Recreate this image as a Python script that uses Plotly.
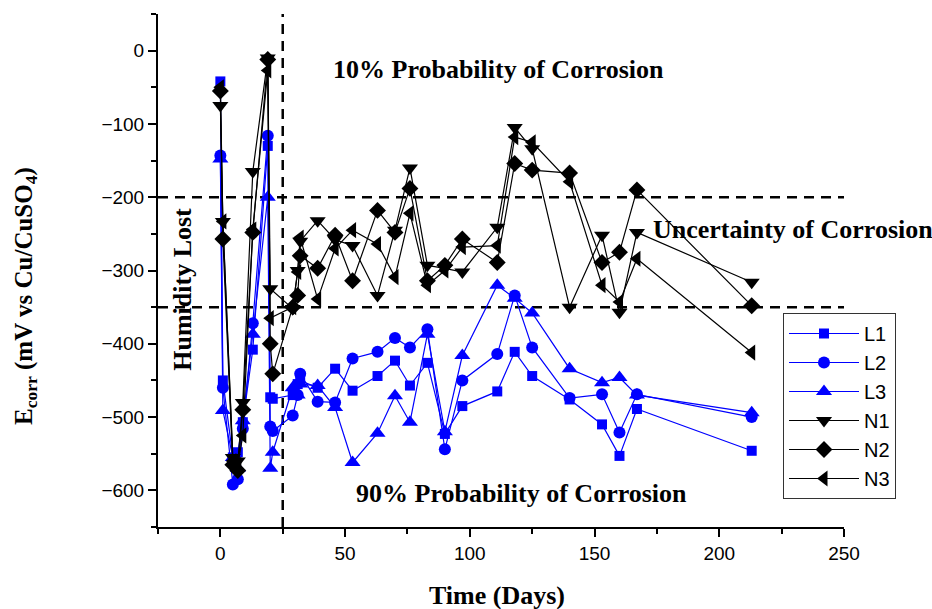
import plotly.graph_objects as go

days = [0, 1, 5, 7, 9, 13, 19, 20, 21, 29, 31, 32, 39, 46, 53, 63, 70, 76, 83, 90, 97,
        111, 118, 125, 140, 153, 160, 167, 213]

L1 = [-42, -450, -555, -548, -507, -408, -130, -473, -475, -470, -455, -450, -460, -434, -464, -444,
      -423, -457, -426, -523, -485, -465, -411, -444, -476, -510, -553, -489, -546]
L2 = [-143, -460, -592, -585, -516, -372, -116, -513, -519, -498, -470, -441, -479, -480, -420, -411,
      -392, -405, -380, -544, -450, -414, -334, -405, -474, -469, -521, -469, -500]
L3 = [-148, -491, -555, -570, -505, -387, -200, -570, -548, -460, -470, -455, -457, -487, -562, -522,
      -471, -507, -387, -520, -416, -320, -338, -358, -434, -453, -446, -470, -494]
N1 = [-75, -233, -555, -560, -480, -165, -10, -325, None, -352, -300, -260, -232, -258, -266, -334,
      -245, -160, -293, -297, -302, -241, -105, -134, -350, -252, -357, -248, -316]
N2 = [-55, -257, -565, -573, -490, -248, -12, -400, -441, -350, -334, -280, -297, -252, -314, -218,
      -248, -188, -314, -293, -257, -289, -154, -163, -167, -289, -275, -190, -348]
N3 = [-50, -233, -560, -565, -525, -244, -27, -365, None, -350, -302, -255, -339, -270, -245, -264,
      -309, -222, -320, -300, -268, -266, -118, -125, -179, -320, -343, -284, -412]

series = [("L1", L1, "square", "#0000FF", 10), ("L2", L2, "circle", "#0000FF", 12),
          ("L3", L3, "triangle-up", "#0000FF", 14), ("N1", N1, "triangle-down", "#000000", 14),
          ("N2", N2, "diamond", "#000000", 13), ("N3", N3, "triangle-left", "#000000", 14)]

x_range = [-25, 250]
y_range = [-650, 50]
limit_lines = [-200, -350]
humidity_day = 25

fig = go.Figure()
for name, vals, sym, col, sz in series:
    fig.add_trace(go.Scatter(
        x=days, y=vals, name=name, mode="lines+markers", connectgaps=True,
        line=dict(color=col, width=1.2),
        marker=dict(symbol=sym, size=sz, color=col, line=dict(width=0)),
    ))

dash = dict(color="black", width=2.5, dash="10px,7px")
for v in limit_lines:
    fig.add_shape(type="line", x0=x_range[0], x1=x_range[1], y0=v, y1=v, line=dash, layer="below")
fig.add_shape(type="line", x0=humidity_day, x1=humidity_day, y0=y_range[0], y1=y_range[1],
              line=dash, layer="below")

serif = "Liberation Serif"
anns = [
    dict(x=111.6, y=-26, text="<b>10% Probability of Corrosion</b>", xanchor="center"),
    dict(x=172.5, y=-244.5, text="<b>Uncertainty of Corrosion</b>", xanchor="left"),
    dict(x=120.8, y=-604, text="<b>90% Probability of Corrosion</b>", xanchor="center"),
    dict(x=-15, y=-325, text="<b>Humidity Lost</b>", xanchor="center", textangle=-90),
]
for a in anns:
    fig.add_annotation(xref="x", yref="y", yanchor="middle", showarrow=False,
                       font=dict(family=serif, size=26, color="black"), **a)

fig.add_annotation(xref="paper", yref="paper", x=(25 - 158) / 686, y=(527 - 296) / 513,
                   xanchor="center", yanchor="middle", textangle=-90,
                   text="<b>E<sub>corr</sub> (mV vs Cu/CuSO<sub>4</sub>)</b>", showarrow=False,
                   font=dict(family=serif, size=25, color="black"))
fig.add_annotation(xref="paper", yref="paper", x=(497 - 158) / 686, y=(527 - 595) / 513,
                   xanchor="center", yanchor="middle",
                   text="<b>Time (Days)</b>", showarrow=False,
                   font=dict(family=serif, size=26, color="black"))

axis_common = dict(showgrid=False, zeroline=False, showline=True, linecolor="black", linewidth=2,
                   ticks="outside", ticklen=8, tickwidth=1.5, tickcolor="black",
                   tickfont=dict(family="Liberation Sans", size=19, color="black"))
fig.update_xaxes(range=x_range, tick0=0, dtick=50,
                 minor=dict(tick0=-25, dtick=25, ticks="outside", ticklen=5, tickwidth=1.5, tickcolor="black"),
                 **axis_common)
fig.update_yaxes(range=y_range, tick0=0, dtick=100,
                 minor=dict(tick0=0, dtick=50, ticks="outside", ticklen=5, tickwidth=1.5, tickcolor="black"),
                 **axis_common)

fig.update_layout(
    width=932, height=609,
    margin=dict(l=158, r=88, t=14, b=82),
    paper_bgcolor="white", plot_bgcolor="white",
    showlegend=True,
    legend=dict(x=(783 - 158) / 686, y=(527 - 313) / 513, xanchor="left", yanchor="top",
                bordercolor="#333333", borderwidth=1, bgcolor="white",
                font=dict(family="Liberation Sans", size=20, color="black"),
                itemwidth=70, tracegroupgap=0),
)

fig.write_html("out.html")
